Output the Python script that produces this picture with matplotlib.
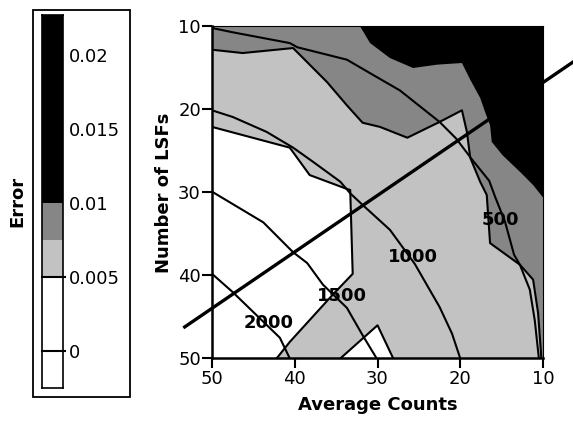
import matplotlib
matplotlib.use("Agg")
import matplotlib.pyplot as plt
from matplotlib.patches import Rectangle

# axis ticks
x_ticks = [50, 40, 30, 20, 10]
y_ticks = [10, 20, 30, 40, 50]

# filled error regions (Average Counts, Number of LSFs)
black_x = [32.1, 10, 10, 11.2, 12.8, 14.9, 16.2, 16.4, 17.0, 17.6, 18.8, 19.8, 22.8, 25.7, 28.5, 30.9]
black_y = [10, 10, 30.6, 29.1, 27.5, 25.5, 23.9, 21.9, 20.3, 18.6, 16.4, 14.4, 14.6, 15.0, 13.8, 12.0]

dark_x = [50, 10, 10, 10.2, 10.6, 11.2, 12.8, 16.4, 16.8, 17.6, 18.8, 19.2, 19.8, 22.5, 26.4,
          29.7, 31.8, 33.7, 36.1, 39.0, 40.2, 46.3, 50]
dark_y = [10, 10, 50, 50, 44.5, 40.5, 38.7, 36.1, 30.3, 28.7, 25.8, 22.7, 20.1, 21.5, 23.4,
          22.1, 21.6, 19.5, 16.7, 13.8, 12.6, 13.2, 12.8]

white_x = [50, 40.6, 38.2, 33.9, 33.3, 33.0, 35.4, 40.6, 42.2, 50]
white_y = [22.1, 24.6, 27.9, 29.5, 29.7, 39.8, 42.3, 48.0, 50, 50]

notch_x = [34.5, 30.0, 28.1]
notch_y = [50, 46.0, 50]

# region boundary line between the two grey bands
edge_x = [50, 46.3, 40.2, 39.0, 36.1, 33.7, 31.8, 29.7, 26.4, 22.5, 19.8, 19.2, 18.8, 17.6,
          16.8, 16.4, 12.8, 11.6, 11.0, 10.5]
edge_y = [12.8, 13.2, 12.6, 13.8, 16.7, 19.5, 21.6, 22.1, 23.4, 21.5, 20.1, 22.7, 25.8, 28.7,
          30.3, 36.1, 38.7, 41.7, 45.4, 50]

# total counts contours
c500_x = [49.9, 47.5, 40.6, 39.7, 33.7, 30.6, 27.3, 22.5, 20.5, 18.6, 16.5, 15.8, 14.6, 13.5,
          12.8, 11.2, 10.6, 10.2]
c500_y = [10.2, 10.7, 12.0, 12.5, 14.0, 15.8, 17.7, 21.5, 23.5, 26.0, 28.6, 30.5, 33.5, 37.5,
          38.7, 40.5, 44.5, 50]
c1000_x = [50, 47.5, 43.4, 40.2, 37.8, 34.5, 33.3, 31.8, 28.5, 25.5, 22.5, 21.0, 20.0]
c1000_y = [20.1, 20.9, 22.7, 24.6, 26.3, 28.7, 30.1, 31.5, 34.5, 38.6, 43.8, 47.0, 50]
c1500_x = [50, 43.8, 40.2, 38.5, 36.6, 33.7, 31.8, 30.1]
c1500_y = [29.9, 33.6, 37.2, 38.5, 41.1, 43.9, 47.2, 50]
c2000_x = [50, 47.5, 44.6, 41.8, 40.6]
c2000_y = [39.8, 42.0, 44.8, 47.5, 50]

count_labels = ["500", "1000", "1500", "2000"]
label_x = [15.2, 25.7, 34.3, 43.2]
label_y = [33.3, 37.8, 42.5, 45.7]

diag_x = [53.3, 6.4]
diag_y = [46.2, 14.3]

# colour key
key_levels = [-0.0025, 0.005, 0.0075, 0.01, 0.0227]
key_ticks = [0, 0.005, 0.01, 0.015, 0.02]
key_labels = ["0", "0.005", "0.01", "0.015", "0.02"]

light = "#c2c2c2"
dark = "#868686"
key_colors = ["white", light, dark, "black"]

fig = plt.figure(figsize=(5.73, 4.25), dpi=100)

ax = fig.add_axes([0.370, 0.1565, 0.5777, 0.7812])
ax.set_facecolor(light)
ax.fill(dark_x, dark_y, color=dark, lw=0)
ax.fill(black_x, black_y, color="black", lw=0)
ax.fill(white_x, white_y, color="white", lw=0)
ax.fill(notch_x, notch_y, color="white", lw=0)

lw = 1.5
ax.plot(edge_x, edge_y, color="black", lw=lw)
ax.plot(white_x[:-1], white_y[:-1], color="black", lw=lw)
ax.plot(notch_x, notch_y, color="black", lw=lw)
for cx, cy in [(c500_x, c500_y), (c1000_x, c1000_y), (c1500_x, c1500_y), (c2000_x, c2000_y)]:
    ax.plot(cx, cy, color="black", lw=lw)
for t, lx, ly in zip(count_labels, label_x, label_y):
    ax.text(lx, ly, t, ha="center", va="center", fontsize=13, fontweight="bold")

ax.plot(diag_x, diag_y, color="black", lw=2.4, clip_on=False, zorder=5)

ax.set_xlim(50, 10)
ax.set_ylim(50, 10)
ax.set_xticks(x_ticks)
ax.set_yticks(y_ticks)
ax.tick_params(direction="out", length=7, width=1.5, labelsize=13, pad=1)
for s in ["left", "bottom"]:
    ax.spines[s].set_linewidth(1.8)
for s in ["top", "right"]:
    ax.spines[s].set_linewidth(0.8)
ax.set_xlabel("Average Counts", fontsize=13, fontweight="bold", labelpad=6)
ax.set_ylabel("Number of LSFs", fontsize=13, fontweight="bold", labelpad=4)

# colour key on the left
cax = fig.add_axes([0.0733, 0.0871, 0.0366, 0.8776])
for lo, hi, c in zip(key_levels[:-1], key_levels[1:], key_colors):
    cax.axhspan(lo, hi, color=c, lw=0)
cax.axhline(0, color="black", lw=1.5, xmax=1.1, clip_on=False)
cax.axhline(0.005, color="black", lw=1.5, xmax=1.1, clip_on=False)
cax.set_ylim(key_levels[0], key_levels[-1])
cax.set_xlim(0, 1)
cax.set_xticks([])
cax.yaxis.tick_right()
cax.set_yticks(key_ticks)
cax.set_yticklabels(key_labels)
cax.tick_params(axis="y", length=0, labelsize=13, pad=4)
for s in cax.spines.values():
    s.set_linewidth(1.2)
cax.yaxis.set_label_position("left")
cax.set_ylabel("Error", fontsize=13, fontweight="bold", labelpad=11)

fig.patches.append(Rectangle((0.0576, 0.0659), 0.1693, 0.9106, transform=fig.transFigure,
                             fill=False, ec="black", lw=1.3))

fig.savefig("out.png", dpi=100)
